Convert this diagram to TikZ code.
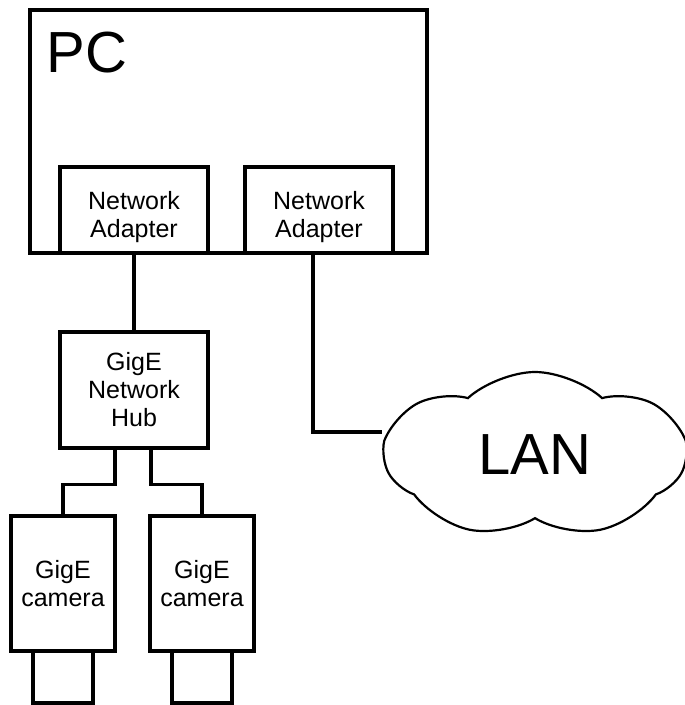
\documentclass[tikz,border=0pt]{standalone}
\usepackage{fontspec}
\setmainfont{Liberation Sans}
\usepackage{tikz}
\usetikzlibrary{positioning}
\usetikzlibrary{shapes.symbols}
\begin{document}
\begin{tikzpicture}[x=1pt,y=-1pt,line width=3.2pt,
  unit node/.style={rectangle,draw,align=center,font=\fontsize{25}{28}\selectfont},
  lens node/.style={rectangle,draw,minimum width=60,minimum height=52}]
  \useasboundingbox (0,0) rectangle (685,705);

  % the PC with its two adapters
  \node[unit node,minimum width=397,minimum height=243] (pc) at (228.5,131.5) {};
  \node[anchor=base west,inner sep=0,font=\fontsize{58}{62}\selectfont] (pctext) at (45,72) {PC};
  \node[unit node,minimum width=148,minimum height=86,text height=60pt] (na1) at (134,210) {Network\\Adapter};
  \node[unit node,minimum width=148,minimum height=86,text height=60pt] (na2) at (319,210) {Network\\Adapter};

  % hub and cameras
  \node[unit node,minimum width=148,minimum height=116] (hub) at (134,390) {GigE\\Network\\Hub};
  \node[unit node,minimum width=104,minimum height=135] (cam1) at (63,583.5) {GigE\\camera};
  \node[unit node,minimum width=104,minimum height=135] (cam2) at (202,583.5) {GigE\\camera};
  \node[lens node,below=-3.2pt of cam1] (lens1) {};
  \node[lens node,below=-3.2pt of cam2] (lens2) {};

  % network
  \node[cloud,draw,line width=2.2pt,cloud puffs=7,cloud puff arc=85,aspect=1.8,
    minimum width=300,minimum height=166,font=\fontsize{58}{62}\selectfont] (lan) at (535,455) {LAN};
  \coordinate (tap) at (313,432);

  \draw (na1) -- (hub);
  \draw ([xshift=-19]hub.south) -- ++(0,35) -| (cam1.north);
  \draw ([xshift=17]hub.south) -- ++(0,35) -| (cam2.north);
  \draw (na2.south -| tap) -- (tap) -- (tap -| lan.west);
\end{tikzpicture}
\end{document}
